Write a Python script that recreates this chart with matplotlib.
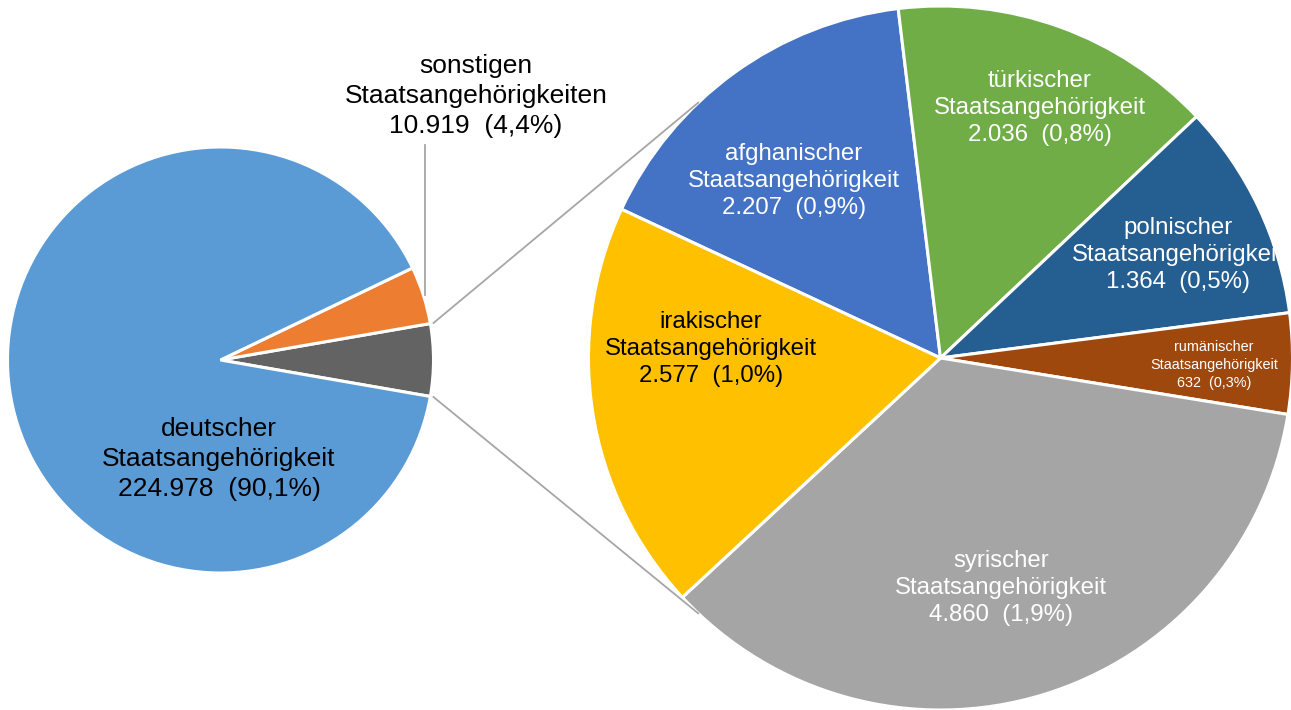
import numpy as np
import matplotlib.pyplot as plt

plt.rcParams['font.family'] = ['Liberation Sans', 'DejaVu Sans']

# Daten
main_names = ["deutscher", "sonstigen"]
main_values = [224978, 10919]
nat_names = ["afghanischer", "türkischer", "polnischer", "rumänischer", "syrischer", "irakischer"]
nat_values = [2207, 2036, 1364, 632, 4860, 2577]

main_colors = ["#5B9BD5", "#ED7D31", "#636363"]
nat_colors = ["#4472C4", "#70AD47", "#255E91", "#9E480E", "#A5A5A5", "#FFC000"]
nat_text_colors = ["white", "white", "white", "white", "white", "black"]

W, H = 1291, 710
total = sum(main_values) + sum(nat_values)


def de_num(v):
    return f"{v:,}".replace(",", ".")


def de_pct(v):
    return f"({100 * v / total:.1f}%)".replace(".", ",")


def label(name, v, plural=False):
    word = "Staatsangehörigkeiten" if plural else "Staatsangehörigkeit"
    return f"{name}\n{word}\n{de_num(v)}  {de_pct(v)}"


fig = plt.figure(figsize=(W / 100, H / 100), dpi=100)
ax = fig.add_axes([0, 0, 1, 1])

# linker Kreis
c_left = (220.5, H - 360)
r_left = 213
other = sum(nat_values)
left_vals = [other, main_values[1], main_values[0]]
other_ang = 360 * other / total
wl, _ = ax.pie(left_vals, colors=[main_colors[2], main_colors[1], main_colors[0]],
               startangle=-other_ang / 2, counterclock=True,
               center=c_left, radius=r_left,
               wedgeprops=dict(edgecolor="white", linewidth=2.2))

# rechter Kreis
c_right = (940.5, H - 358)
r_right = 352
wr, _ = ax.pie(nat_values, colors=nat_colors, startangle=155, counterclock=False,
               center=c_right, radius=r_right,
               wedgeprops=dict(edgecolor="white", linewidth=2.2))

ax.set_xlim(0, W)
ax.set_ylim(0, H)
ax.axis("off")

# Verbindungslinien zum rechten Kreis
for sgn in (1, -1):
    a = np.radians(sgn * other_ang / 2)
    p = np.array(c_left) + r_left * 1.015 * np.array([np.cos(a), np.sin(a)])
    t = np.radians(sgn * 133.5)
    q = np.array(c_right) + r_right * np.array([np.cos(t), np.sin(t)])
    ax.plot([p[0], q[0]], [p[1], q[1]], color="#A6A6A6", lw=1.3, zorder=5)

# Beschriftungen linker Kreis
ax.text(219, H - 459, label(main_names[0], main_values[0]), ha="center", va="center",
        fontsize=19, linespacing=1.3, color="black")
ax.text(476, H - 96, label(main_names[1], main_values[1], plural=True), ha="center",
        va="center", fontsize=19, linespacing=1.3, color="black")
w_o = wl[1]
mid = np.radians((w_o.theta1 + w_o.theta2) / 2)
xo = c_left[0] + r_left * np.cos(mid) + 2
yo = c_left[1] + r_left * np.sin(mid)
ax.plot([xo, xo], [yo, H - 145], color="#A6A6A6", lw=1.3, zorder=5)

# Beschriftungen rechter Kreis
nat_label_xy = [(794, 181), (1040, 108), (1178, 255), (1214, 365), (1001, 588), (711, 349)]
nat_font = [17.3, 17.3, 17.3, 10.4, 17.3, 17.3]
for i, name in enumerate(nat_names):
    x, y = nat_label_xy[i]
    t = ax.text(x, H - y, label(name, nat_values[i]), ha="center", va="center",
                fontsize=nat_font[i], linespacing=1.32, color=nat_text_colors[i])
    t.set_clip_path(wr[i])

fig.savefig("out.png", dpi=100)
